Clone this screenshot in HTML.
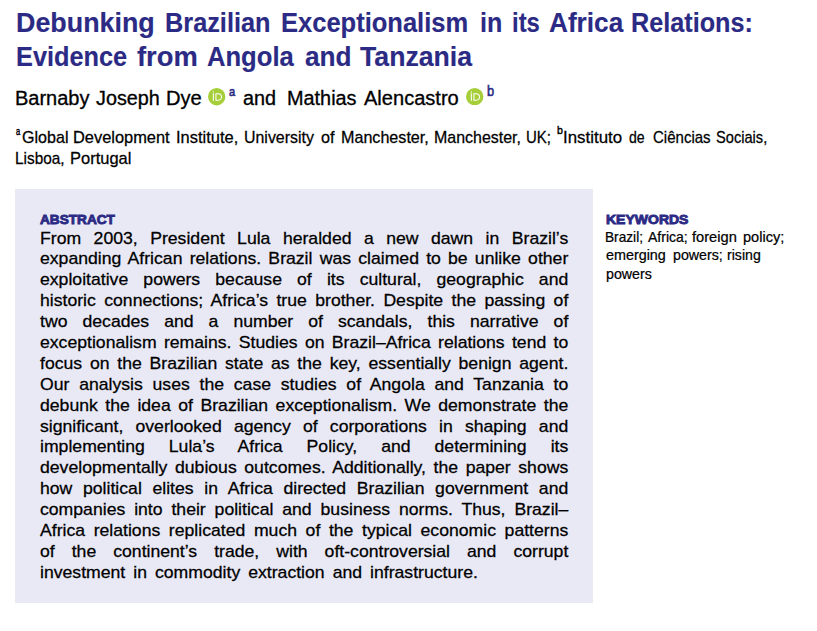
<!DOCTYPE html>
<html><head><meta charset="utf-8"><title>Abstract</title>
<style>
html,body{margin:0;padding:0;background:#fff;}
body{width:817px;height:631px;position:relative;overflow:hidden;font-family:"Liberation Sans",sans-serif;}
.w,.j{position:absolute;white-space:nowrap;line-height:1;transform-origin:0 0;}
.j{text-align:justify;text-align-last:justify;color:#000;-webkit-text-stroke:0.27px #000;}
.box{position:absolute;left:15px;top:189px;width:578px;height:414px;background:#e9e9f5;}
</style></head><body>
<div class="box"></div>
<div class="w" style="left:15.98px;top:9.74px;font-size:27px;font-weight:bold;color:#2b2a84;-webkit-text-stroke:0.15px #2b2a84;transform:scaleX(0.9945)">Debunking</div>
<div class="w" style="left:165.03px;top:9.74px;font-size:27px;font-weight:bold;color:#2b2a84;-webkit-text-stroke:0.15px #2b2a84;transform:scaleX(0.9375)">Brazilian</div>
<div class="w" style="left:280.93px;top:9.74px;font-size:27px;font-weight:bold;color:#2b2a84;-webkit-text-stroke:0.15px #2b2a84;transform:scaleX(0.9449)">Exceptionalism</div>
<div class="w" style="left:479.94px;top:9.74px;font-size:27px;font-weight:bold;color:#2b2a84;-webkit-text-stroke:0.15px #2b2a84;transform:scaleX(0.9283)">in</div>
<div class="w" style="left:511.78px;top:9.74px;font-size:27px;font-weight:bold;color:#2b2a84;-webkit-text-stroke:0.15px #2b2a84;transform:scaleX(0.8839)">its</div>
<div class="w" style="left:548.57px;top:9.74px;font-size:27px;font-weight:bold;color:#2b2a84;-webkit-text-stroke:0.15px #2b2a84;transform:scaleX(0.9696)">Africa</div>
<div class="w" style="left:631.34px;top:9.74px;font-size:27px;font-weight:bold;color:#2b2a84;-webkit-text-stroke:0.15px #2b2a84;transform:scaleX(0.9336)">Relations:</div>
<div class="w" style="left:16.03px;top:43.74px;font-size:27px;font-weight:bold;color:#2b2a84;-webkit-text-stroke:0.15px #2b2a84;transform:scaleX(0.9372)">Evidence</div>
<div class="w" style="left:136.68px;top:43.74px;font-size:27px;font-weight:bold;color:#2b2a84;-webkit-text-stroke:0.15px #2b2a84;transform:scaleX(1.0128)">from</div>
<div class="w" style="left:206.87px;top:43.74px;font-size:27px;font-weight:bold;color:#2b2a84;-webkit-text-stroke:0.15px #2b2a84;transform:scaleX(0.9479)">Angola</div>
<div class="w" style="left:305.37px;top:43.74px;font-size:27px;font-weight:bold;color:#2b2a84;-webkit-text-stroke:0.15px #2b2a84;transform:scaleX(0.9709)">and</div>
<div class="w" style="left:359.87px;top:43.74px;font-size:27px;font-weight:bold;color:#2b2a84;-webkit-text-stroke:0.15px #2b2a84;transform:scaleX(0.9873)">Tanzania</div>
<div class="w" style="left:15.13px;top:89.29px;font-size:19.5px;font-weight:normal;color:#000;-webkit-text-stroke:0.31px #000;transform:scaleX(1.0251)">Barnaby</div>
<div class="w" style="left:96.46px;top:89.29px;font-size:19.5px;font-weight:normal;color:#000;-webkit-text-stroke:0.31px #000;transform:scaleX(1.0137)">Joseph</div>
<div class="w" style="left:165.93px;top:89.29px;font-size:19.5px;font-weight:normal;color:#000;-webkit-text-stroke:0.31px #000;transform:scaleX(1.0319)">Dye</div>
<div class="w" style="left:243.46px;top:89.29px;font-size:19.5px;font-weight:normal;color:#000;-webkit-text-stroke:0.31px #000;transform:scaleX(1.0156)">and</div>
<div class="w" style="left:286.64px;top:89.29px;font-size:19.5px;font-weight:normal;color:#000;-webkit-text-stroke:0.31px #000;transform:scaleX(1.0186)">Mathias</div>
<div class="w" style="left:364.46px;top:89.29px;font-size:19.5px;font-weight:normal;color:#000;-webkit-text-stroke:0.31px #000;transform:scaleX(1.0281)">Alencastro</div>
<div class="w" style="left:229.25px;top:85.00px;font-size:13px;font-weight:normal;color:#2b2a84;-webkit-text-stroke:0.60px #2b2a84;transform:scaleX(0.8488)">a</div>
<div class="w" style="left:487.45px;top:83.75px;font-size:14px;font-weight:normal;color:#2b2a84;-webkit-text-stroke:0.55px #2b2a84;transform:scaleX(0.9123)">b</div>
<div class="w" style="left:16.36px;top:125.81px;font-size:10.5px;font-weight:normal;color:#000;-webkit-text-stroke:0.45px #000;transform:scaleX(0.7132)">a</div>
<div class="w" style="left:556.61px;top:125.27px;font-size:11.5px;font-weight:normal;color:#000;-webkit-text-stroke:0.45px #000;transform:scaleX(0.9147)">b</div>
<div class="w" style="left:22.13px;top:129.01px;font-size:17px;font-weight:normal;color:#000;-webkit-text-stroke:0.27px #000;transform:scaleX(0.9458)">Global</div>
<div class="w" style="left:73.27px;top:129.01px;font-size:17px;font-weight:normal;color:#000;-webkit-text-stroke:0.27px #000;transform:scaleX(0.9648)">Development</div>
<div class="w" style="left:176.16px;top:129.01px;font-size:17px;font-weight:normal;color:#000;-webkit-text-stroke:0.27px #000;transform:scaleX(0.9681)">Institute,</div>
<div class="w" style="left:243.89px;top:129.01px;font-size:17px;font-weight:normal;color:#000;-webkit-text-stroke:0.27px #000;transform:scaleX(0.9369)">University</div>
<div class="w" style="left:320.73px;top:129.01px;font-size:17px;font-weight:normal;color:#000;-webkit-text-stroke:0.27px #000;transform:scaleX(0.9508)">of</div>
<div class="w" style="left:340.68px;top:129.01px;font-size:17px;font-weight:normal;color:#000;-webkit-text-stroke:0.27px #000;transform:scaleX(0.9479)">Manchester,</div>
<div class="w" style="left:433.89px;top:129.01px;font-size:17px;font-weight:normal;color:#000;-webkit-text-stroke:0.27px #000;transform:scaleX(0.9391)">Manchester,</div>
<div class="w" style="left:526.04px;top:129.01px;font-size:17px;font-weight:normal;color:#000;-webkit-text-stroke:0.27px #000;transform:scaleX(0.8815)">UK;</div>
<div class="w" style="left:563.14px;top:129.01px;font-size:17px;font-weight:normal;color:#000;-webkit-text-stroke:0.27px #000;transform:scaleX(0.9940)">Instituto</div>
<div class="w" style="left:628.51px;top:129.01px;font-size:17px;font-weight:normal;color:#000;-webkit-text-stroke:0.27px #000;transform:scaleX(0.8278)">de</div>
<div class="w" style="left:652.72px;top:129.01px;font-size:17px;font-weight:normal;color:#000;-webkit-text-stroke:0.27px #000;transform:scaleX(0.8836)">Ciências</div>
<div class="w" style="left:715.92px;top:129.01px;font-size:17px;font-weight:normal;color:#000;-webkit-text-stroke:0.27px #000;transform:scaleX(0.8600)">Sociais,</div>
<div class="w" style="left:15.22px;top:150.01px;font-size:17px;font-weight:normal;color:#000;-webkit-text-stroke:0.27px #000;transform:scaleX(0.9051)">Lisboa,</div>
<div class="w" style="left:69.86px;top:150.01px;font-size:17px;font-weight:normal;color:#000;-webkit-text-stroke:0.27px #000;transform:scaleX(0.9691)">Portugal</div>
<div class="w" style="left:40.25px;top:213.29px;font-size:13.6px;font-weight:bold;color:#2b2a84;-webkit-text-stroke:0.90px #2b2a84;transform:scaleX(1.0019)">ABSTRACT</div>
<div class="w" style="left:605.68px;top:213.43px;font-size:13.2px;font-weight:bold;color:#2b2a84;-webkit-text-stroke:0.90px #2b2a84;transform:scaleX(1.0614)">KEYWORDS</div>
<div class="w" style="left:604.87px;top:229.73px;font-size:14.5px;font-weight:normal;color:#000;-webkit-text-stroke:0.23px #000;transform:scaleX(0.9432)">Brazil;</div>
<div class="w" style="left:648.11px;top:229.73px;font-size:14.5px;font-weight:normal;color:#000;-webkit-text-stroke:0.23px #000;transform:scaleX(0.9654)">Africa;</div>
<div class="w" style="left:692.32px;top:229.73px;font-size:14.5px;font-weight:normal;color:#000;-webkit-text-stroke:0.23px #000;transform:scaleX(1.0112)">foreign</div>
<div class="w" style="left:743.32px;top:229.73px;font-size:14.5px;font-weight:normal;color:#000;-webkit-text-stroke:0.23px #000;transform:scaleX(1.0049)">policy;</div>
<div class="w" style="left:605.81px;top:248.43px;font-size:14.5px;font-weight:normal;color:#000;-webkit-text-stroke:0.23px #000;transform:scaleX(0.9898)">emerging</div>
<div class="w" style="left:672.61px;top:248.43px;font-size:14.5px;font-weight:normal;color:#000;-webkit-text-stroke:0.23px #000;transform:scaleX(0.9805)">powers;</div>
<div class="w" style="left:727.01px;top:248.43px;font-size:14.5px;font-weight:normal;color:#000;-webkit-text-stroke:0.23px #000;transform:scaleX(0.9737)">rising</div>
<div class="w" style="left:605.81px;top:267.13px;font-size:14.5px;font-weight:normal;color:#000;-webkit-text-stroke:0.23px #000;transform:scaleX(0.9802)">powers</div>
<div class="j" id="L0" style="left:40.0px;top:230.00px;width:509.45px;font-size:17px;transform:scaleX(1.037)">From 2003, President Lula heralded a new dawn in Brazil’s</div>
<div class="j" id="L1" style="left:40.0px;top:250.00px;width:509.45px;font-size:17px;transform:scaleX(1.037)">expanding African relations. Brazil was claimed to be unlike other</div>
<div class="j" id="L2" style="left:40.0px;top:271.00px;width:509.45px;font-size:17px;transform:scaleX(1.037)">exploitative powers because of its cultural, geographic and</div>
<div class="j" id="L3" style="left:40.0px;top:292.00px;width:509.45px;font-size:17px;transform:scaleX(1.037)">historic connections; Africa’s true brother. Despite the passing of</div>
<div class="j" id="L4" style="left:40.0px;top:313.00px;width:509.45px;font-size:17px;transform:scaleX(1.037)">two decades and a number of scandals, this narrative of</div>
<div class="j" id="L5" style="left:40.0px;top:334.00px;width:509.45px;font-size:17px;transform:scaleX(1.037)">exceptionalism remains. Studies on Brazil–Africa relations tend to</div>
<div class="j" id="L6" style="left:40.0px;top:355.00px;width:509.45px;font-size:17px;transform:scaleX(1.037)">focus on the Brazilian state as the key, essentially benign agent.</div>
<div class="j" id="L7" style="left:40.0px;top:376.00px;width:509.45px;font-size:17px;transform:scaleX(1.037)">Our analysis uses the case studies of Angola and Tanzania to</div>
<div class="j" id="L8" style="left:40.0px;top:397.00px;width:509.45px;font-size:17px;transform:scaleX(1.037)">debunk the idea of Brazilian exceptionalism. We demonstrate the</div>
<div class="j" id="L9" style="left:40.0px;top:418.00px;width:509.45px;font-size:17px;transform:scaleX(1.037)">significant, overlooked agency of corporations in shaping and</div>
<div class="j" id="L10" style="left:40.0px;top:438.00px;width:509.45px;font-size:17px;transform:scaleX(1.037)">implementing Lula’s Africa Policy, and determining its</div>
<div class="j" id="L11" style="left:40.0px;top:459.00px;width:509.45px;font-size:17px;transform:scaleX(1.037)">developmentally dubious outcomes. Additionally, the paper shows</div>
<div class="j" id="L12" style="left:40.0px;top:480.00px;width:509.45px;font-size:17px;transform:scaleX(1.037)">how political elites in Africa directed Brazilian government and</div>
<div class="j" id="L13" style="left:40.0px;top:501.00px;width:509.45px;font-size:17px;transform:scaleX(1.037)">companies into their political and business norms. Thus, Brazil–</div>
<div class="j" id="L14" style="left:40.0px;top:522.00px;width:509.45px;font-size:17px;transform:scaleX(1.037)">Africa relations replicated much of the typical economic patterns</div>
<div class="j" id="L15" style="left:40.0px;top:543.00px;width:509.45px;font-size:17px;transform:scaleX(1.037)">of the continent’s trade, with oft-controversial and corrupt</div>
<div class="j" id="L16" style="left:40.0px;top:564.00px;word-spacing:3.0px;text-align-last:left;font-size:17px;transform:scaleX(1.037)">investment in commodity extraction and infrastructure.</div>
<svg style="position:absolute;left:208.25px;top:88.20px" width="17.4" height="17.4" viewBox="0 0 256 256"><circle cx="128" cy="128" r="128" fill="#a6ce39"/><g fill="#fff"><path d="M86.3 186.2H70.9V79.1h15.4v107.1z"/><path d="M108.9 79.1h41.6c39.6 0 57 28.3 57 53.6 0 27.5-21.5 53.6-56.8 53.6h-41.8V79.1zm15.4 93.3h24.5c34.9 0 42.9-26.5 42.9-39.7 0-21.5-13.7-39.7-43.7-39.7h-23.7v79.4z"/><circle cx="78.6" cy="56.8" r="10.1"/></g></svg>
<svg style="position:absolute;left:466.30px;top:88.00px" width="17.4" height="17.4" viewBox="0 0 256 256"><circle cx="128" cy="128" r="128" fill="#a6ce39"/><g fill="#fff"><path d="M86.3 186.2H70.9V79.1h15.4v107.1z"/><path d="M108.9 79.1h41.6c39.6 0 57 28.3 57 53.6 0 27.5-21.5 53.6-56.8 53.6h-41.8V79.1zm15.4 93.3h24.5c34.9 0 42.9-26.5 42.9-39.7 0-21.5-13.7-39.7-43.7-39.7h-23.7v79.4z"/><circle cx="78.6" cy="56.8" r="10.1"/></g></svg>
</body></html>
